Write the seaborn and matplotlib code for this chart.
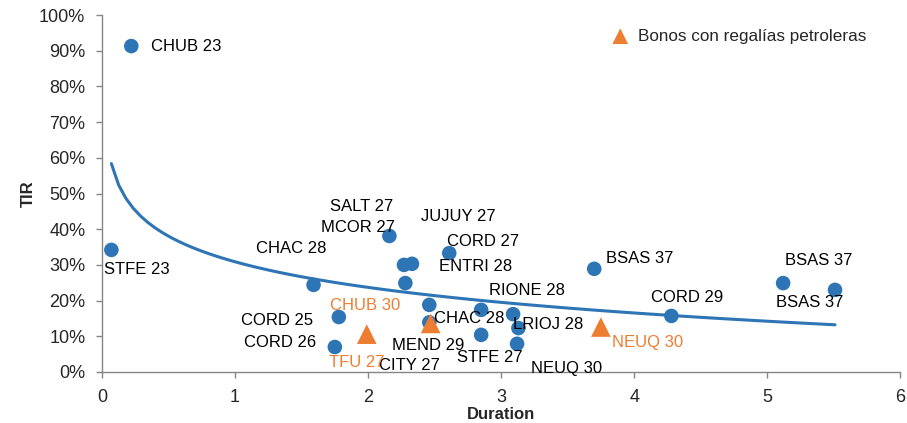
import numpy as np
import pandas as pd
import seaborn as sns
import matplotlib.pyplot as plt
from matplotlib.ticker import PercentFormatter

# bonos provinciales: duration vs TIR (%)
names = ['CHUB 23', 'STFE 23', 'CHAC 28', 'CORD 25', 'CORD 26', 'MCOR 27', 'SALT 27',
         'JUJUY 27', 'CORD 27', 'ENTRI 28', 'CITY 27', 'MEND 29', 'CHAC 28', 'STFE 27',
         'RIONE 28', 'LRIOJ 28', 'NEUQ 30', 'BSAS 37', 'CORD 29', 'BSAS 37', 'BSAS 37']
duration = [0.22, 0.07, 1.59, 1.78, 1.75, 2.16, 2.27, 2.33, 2.61, 2.28, 2.46, 2.46,
            2.85, 2.85, 3.09, 3.13, 3.12, 3.70, 4.28, 5.12, 5.51]
tir = [91.3, 34.2, 24.4, 15.4, 7.0, 38.1, 30.0, 30.3, 33.3, 24.9, 18.8, 13.9,
       17.4, 10.4, 16.2, 12.3, 7.9, 28.9, 15.7, 24.9, 23.0]

# bonos con regalías petroleras
reg_names = ['CHUB 30', 'TFU 27', 'NEUQ 30']
reg_duration = [1.99, 2.47, 3.75]
reg_tir = [10.6, 13.6, 12.6]

df = pd.DataFrame({'bono': names, 'duration': duration, 'tir': tir})
reg = pd.DataFrame({'bono': reg_names, 'duration': reg_duration, 'tir': reg_tir})
todos = pd.concat([df, reg], ignore_index=True)

blue = '#2E75B6'
orange = '#ED7D31'

sns.set_style('white')
plt.rcParams['font.family'] = ['Liberation Sans', 'DejaVu Sans']

fig, ax = plt.subplots(figsize=(9.07, 4.23), dpi=100)
fig.subplots_adjust(left=0.1125, right=0.9925, bottom=0.1206, top=0.9645)

# tendencia logarítmica sobre todos los bonos
sns.regplot(data=todos, x='duration', y='tir', logx=True, ci=None, scatter=False,
            line_kws={'color': blue, 'lw': 2.2}, ax=ax)
sns.scatterplot(data=df, x='duration', y='tir', color=blue, s=110, edgecolor='none',
                ax=ax, zorder=3)
sns.scatterplot(data=reg, x='duration', y='tir', color=orange, marker='^', s=200,
                edgecolor='none', ax=ax, zorder=4, label='Bonos con regalías petroleras')

# label offsets in pixels (dx, dy) and alignment
offsets = [(20, 0, 'left'), (25, -20, 'center'), (-22, 36, 'center'), (-62, -3, 'center'),
           (-55, 4, 'center'), (-31, 8, 'center'), (-42, 58, 'center'), (46, 47, 'center'),
           (34, 12, 'center'), (70, 17, 'center'), (-20, -61, 'center'), (-1, -23, 'center'),
           (-12, -9, 'center'), (9, -23, 'center'), (14, 24, 'center'), (30, 4, 'center'),
           (49, -25, 'center'), (45, 10, 'center'), (16, 18, 'center'), (36, 23, 'center'),
           (-25, -13, 'center')]
for (n, x, y), (dx, dy, ha) in zip(zip(names, duration, tir), offsets):
    ax.annotate(n, (x, y), xytext=(dx, dy), textcoords='offset pixels',
                ha=ha, va='center', fontsize=12, color='black', zorder=5)

reg_offsets = [(-2, 29), (-74, -39), (47, -15)]
for (n, x, y), (dx, dy) in zip(zip(reg_names, reg_duration, reg_tir), reg_offsets):
    ax.annotate(n, (x, y), xytext=(dx, dy), textcoords='offset pixels',
                ha='center', va='center', fontsize=12, color=orange, zorder=5)

ax.set_xlim(0, 6)
ax.set_ylim(0, 100)
ax.set_xticks(range(0, 7))
ax.set_yticks(range(0, 101, 10))
ax.yaxis.set_major_formatter(PercentFormatter(decimals=0))
ax.tick_params(axis='both', labelsize=13, length=4, width=1, color='#868686',
               direction='out', left=True, bottom=True)
ax.tick_params(axis='x', pad=8)
ax.tick_params(axis='y', pad=8)
ax.set_xlabel('Duration', fontsize=12, fontweight='bold', labelpad=1)
ax.set_ylabel('TIR', fontsize=12, fontweight='bold', labelpad=2)

for side in ['top', 'right']:
    ax.spines[side].set_visible(False)
for side in ['left', 'bottom']:
    ax.spines[side].set_color('#868686')
    ax.spines[side].set_linewidth(1)

ax.legend(loc='upper right', bbox_to_anchor=(0.975, 1.0), frameon=False, fontsize=12.3,
          handletextpad=0.05, borderaxespad=0.4, markerscale=0.8)

fig.savefig('out.png', dpi=100)
